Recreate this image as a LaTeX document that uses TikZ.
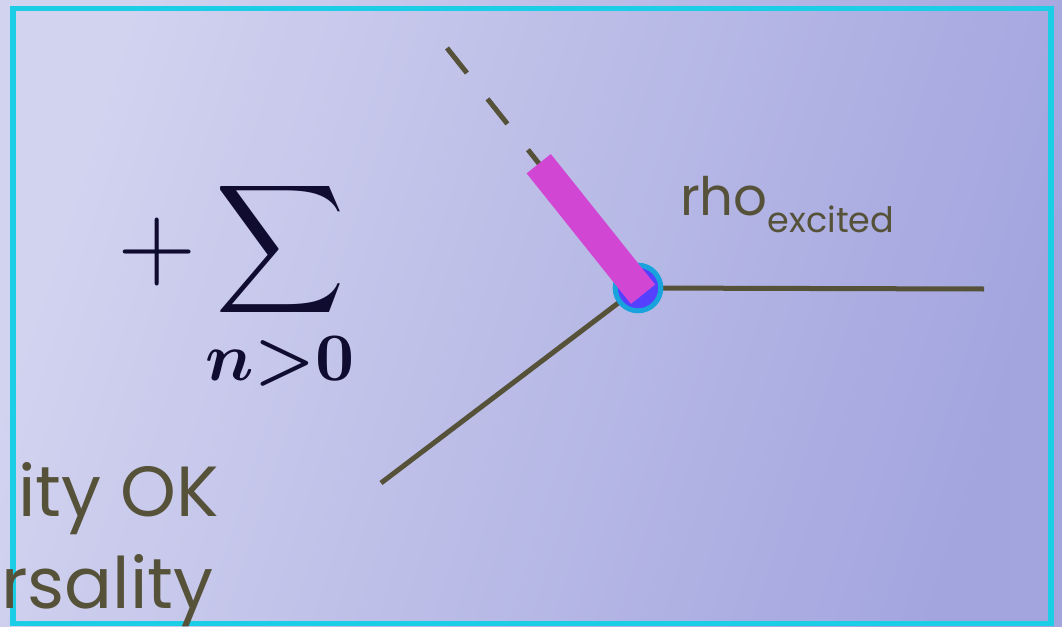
\documentclass[tikz,border=0pt]{standalone}
\usepackage{fontspec}
\usepackage{graphicx}
\newfontfamily\pop{Poppins}
\definecolor{bgA}{HTML}{D2D3EF}
\definecolor{bgB}{HTML}{A3A5DF}
\definecolor{framec}{HTML}{1BCDE5}
\definecolor{linec}{HTML}{56523A}
\definecolor{barc}{HTML}{D147D4}
\definecolor{dotc}{HTML}{5540FF}
\definecolor{ringc}{HTML}{19A3DD}
\definecolor{mathc}{HTML}{100C30}
\tikzset{
  wire/.style={draw=linec, line width=5pt},
  dashwire/.style={wire, dash pattern=on 32pt off 33pt},
  barstroke/.style={draw=barc, line width=31pt},
  vertex/.style={circle, draw=ringc, line width=5pt, fill=dotc, minimum size=45.6pt, inner sep=0pt},
  label/.style={text=linec, inner sep=0pt, font=\pop},
  mathlbl/.style={text=mathc, inner sep=0pt},
}
\begin{document}
\begin{tikzpicture}[x=1pt,y=-1pt]
\useasboundingbox (0,0) rectangle (1062,626);
\begin{scope}
\clip (0,0) rectangle (1062,626);
\shade[top color=bgA, bottom color=bgB, shading angle=72] (0,0) rectangle (1062,626);
\draw[framec, line width=5.5pt] (13,8.5) rectangle (1051,623.5);

\coordinate (vc) at (638,288);
\coordinate (d0) at (447,48);
\coordinate (b0) at (538.7,163.7);
\coordinate (eR) at (984,289);
\coordinate (eL) at (381,483);

\draw[dashwire] (d0) -- (vc);
\draw[wire] (vc) -- (eR);
\draw[wire] (vc) -- (eL);
\node[vertex] (v) at (vc) {};
\draw[barstroke, shorten >=-8pt] (b0) -- (v.center);

\node[mathlbl] (plus) at (156.7,252.3) {\scalebox{10.2}{$+$}};
\node[mathlbl] (sum) at (280.8,250) {\scalebox{9}{$\displaystyle\sum$}};
\node[mathlbl, anchor=base] (cond) at (280,380) {\scalebox{6.8}{\boldmath$n{>}0$}};

\node[label, anchor=base west] (rho) at (680,215) {\fontsize{53}{60}\selectfont rho\raisebox{-17pt}{\fontsize{35}{40}\selectfont excited}};

\node[label, anchor=base east] (ok) at (219,516) {\fontsize{71}{80}\selectfont ity OK};
\node[label, anchor=base west] (univ) at (1,608) {\fontsize{71}{80}\selectfont rsality};
\end{scope}
\end{tikzpicture}
\end{document}
